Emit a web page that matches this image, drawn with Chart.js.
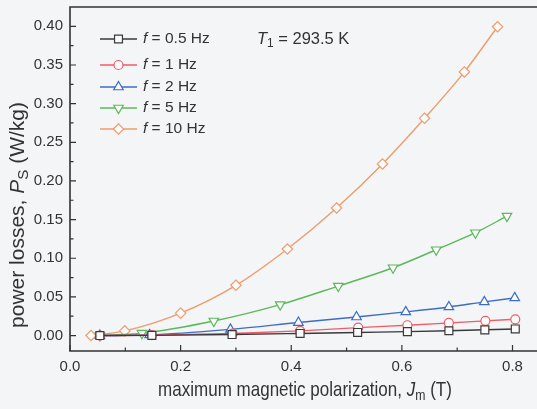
<!DOCTYPE html>
<html>
<head>
<meta charset="utf-8">
<script src="https://cdn.jsdelivr.net/npm/chart.js@4.4.0/dist/chart.umd.min.js"></script>
<style>
  html, body { margin: 0; padding: 0; background: #f4f5f6; }
  canvas { display: block; }
</style>
</head>
<body>
<canvas id="losses" width="537" height="409"></canvas>
<script>
// maximum polarization J_m (T) and specific losses P_S (W/kg) for each frequency
const jm05 = [0.054, 0.148, 0.293, 0.416, 0.520, 0.610, 0.685, 0.750, 0.805];
const ps05 = [0.0, 0.0002, 0.0013, 0.0027, 0.0040, 0.0050, 0.0062, 0.0074, 0.0085];

const jm1 = [0.054, 0.148, 0.294, 0.416, 0.521, 0.610, 0.685, 0.751, 0.805];
const ps1 = [0.0, 0.0005, 0.0026, 0.0060, 0.0103, 0.0133, 0.0163, 0.0190, 0.0210];

const jm2 = [0.054, 0.144, 0.290, 0.413, 0.518, 0.607, 0.685, 0.749, 0.804];
const ps2 = [0.0, 0.0008, 0.0080, 0.0168, 0.0240, 0.0306, 0.0370, 0.0435, 0.0487];

const jm5 = [0.054, 0.130, 0.260, 0.380, 0.485, 0.584, 0.662, 0.733, 0.790];
const ps5 = [0.0, 0.0030, 0.0188, 0.0400, 0.0640, 0.0877, 0.1110, 0.1330, 0.1545];

const jm10 = [0.038, 0.099, 0.200, 0.300, 0.393, 0.482, 0.565, 0.641, 0.713, 0.773];
const ps10 = [0.0, 0.0060, 0.0290, 0.0650, 0.1120, 0.1650, 0.2220, 0.2810, 0.3410, 0.3995];

const freqLabels = ['0.5 Hz', '1 Hz', '2 Hz', '5 Hz', '10 Hz'];
const xTicks = [0.0, 0.2, 0.4, 0.6, 0.8];
const xMinor = [0.1, 0.3, 0.5, 0.7];
const yTicks = [0.00, 0.05, 0.10, 0.15, 0.20, 0.25, 0.30, 0.35, 0.40];
const yMinor = [0.025, 0.075, 0.125, 0.175, 0.225, 0.275, 0.325, 0.375];

const INK = '#333333';
const FONT = '"Liberation Sans", Arial, sans-serif';

function pts(xs, ys) {
    return xs.map((x, i) => ({x: x, y: ys[i]}));
}

function series(label, xs, ys, color, style, radius, rotation) {
    return {
        label: label,
        data: pts(xs, ys),
        borderColor: color,
        borderWidth: 1.4,
        cubicInterpolationMode: 'monotone',
        pointStyle: style,
        pointRadius: radius,
        pointRotation: rotation || 0,
        pointBorderColor: color,
        pointBorderWidth: 1.2,
        pointBackgroundColor: '#fbfbfb',
        fill: false
    };
}

// draws a run of text pieces: [text, italic, subscript], squeezed horizontally by sx
function richText(ctx, parts, size, x, y, align, sx) {
    sx = sx || 1;
    const widths = parts.map(p => {
        ctx.font = (p[1] ? 'italic ' : '') + (p[2] ? size * 0.72 : size) + 'px ' + FONT;
        return ctx.measureText(p[0]).width;
    });
    const total = widths.reduce((a, b) => a + b, 0);
    ctx.save();
    ctx.translate(x, y);
    ctx.scale(sx, 1);
    let cx = align === 'center' ? -total / 2 : 0;
    parts.forEach((p, i) => {
        ctx.font = (p[1] ? 'italic ' : '') + (p[2] ? size * 0.72 : size) + 'px ' + FONT;
        ctx.fillText(p[0], cx, p[2] ? size * 0.28 : 0);
        cx += widths[i];
    });
    ctx.restore();
}

const framePlugin = {
    id: 'frame',
    afterDatasetsDraw(chart) {
        const ctx = chart.ctx;
        const a = chart.chartArea;
        const xs = chart.scales.x, ys = chart.scales.y;
        ctx.save();
        ctx.strokeStyle = INK;
        ctx.lineWidth = 1.6;
        ctx.beginPath();
        ctx.moveTo(chart.width, a.top);
        ctx.lineTo(a.left, a.top);
        ctx.lineTo(a.left, a.bottom);
        ctx.lineTo(chart.width, a.bottom);
        ctx.stroke();

        // inward tick marks
        ctx.lineWidth = 1.2;
        ctx.beginPath();
        xTicks.concat(xMinor).forEach((v, i) => {
            const px = xs.getPixelForValue(v);
            const len = i < xTicks.length ? 6 : 3.5;
            ctx.moveTo(px, a.bottom);
            ctx.lineTo(px, a.bottom - len);
        });
        yTicks.concat(yMinor).forEach((v, i) => {
            const py = ys.getPixelForValue(v);
            const len = i < yTicks.length ? 6 : 3.5;
            ctx.moveTo(a.left, py);
            ctx.lineTo(a.left + len, py);
        });
        ctx.stroke();
        ctx.restore();
    },
    afterDraw(chart) {
        const ctx = chart.ctx;
        ctx.save();
        ctx.fillStyle = INK;
        ctx.textBaseline = 'middle';

        // legend, line with marker then label
        const rowY = [39, 65, 87, 108, 129];
        chart.data.datasets.forEach((ds, i) => {
            const y = rowY[i];
            ctx.strokeStyle = ds.borderColor;
            ctx.lineWidth = 1.4;
            ctx.beginPath();
            ctx.moveTo(100, y);
            ctx.lineTo(137, y);
            ctx.stroke();
            ctx.fillStyle = '#fbfbfb';
            ctx.lineWidth = 1.2;
            Chart.helpers.drawPoint(ctx, {
                pointStyle: ds.pointStyle,
                radius: ds.pointRadius,
                rotation: ds.pointRotation,
                borderWidth: 1.2
            }, 118.5, y);
            ctx.fillStyle = INK;
            richText(ctx, [['f', true, false], [' = ' + ds.label, false, false]], 15.5, 143, y, 'left');
        });

        richText(ctx, [['T', true, false], ['1', false, true], [' = 293.5 K', false, false]], 16.5, 257, 39, 'left');

        // axis titles
        richText(ctx, [['maximum magnetic polarization, ', false, false], ['J', true, false],
            ['m', false, true], [' (T)', false, false]], 21, 305, 390, 'center', 0.81);

        ctx.translate(18, 215);
        ctx.rotate(-Math.PI / 2);
        richText(ctx, [['power losses, ', false, false], ['P', true, false],
            ['S', false, true], [' (W/kg)', false, false]], 21, 0, 0, 'center');
        ctx.restore();
    }
};

new Chart('losses', {
    type: 'line',
    data: {
        datasets: [
            series(freqLabels[0], jm05, ps05, '#3a3a3a', 'rect', 5.6),
            series(freqLabels[1], jm1, ps1, '#ee5d68', 'circle', 4.5),
            series(freqLabels[2], jm2, ps2, '#3e6cc6', 'triangle', 5.5),
            series(freqLabels[3], jm5, ps5, '#5cb85a', 'triangle', 5.5, 180),
            series(freqLabels[4], jm10, ps10, '#ee9c6c', 'rectRot', 5.2)
        ]
    },
    options: {
        responsive: false,
        animation: false,
        devicePixelRatio: 1,
        layout: {padding: {top: 7, right: 0, left: 0, bottom: 0}},
        plugins: {legend: {display: false}, tooltip: {enabled: false}},
        scales: {
            x: {
                type: 'linear',
                min: 0,
                max: 0.832,
                grid: {display: false, drawTicks: false},
                border: {display: false},
                afterFit(s) {
                    s.height = 58;
                    s.paddingLeft = 0;
                    s.paddingRight = 0;
                },
                afterBuildTicks(s) { s.ticks = xTicks.map(v => ({value: v})); },
                ticks: {
                    padding: 7,
                    color: INK,
                    font: {family: FONT, size: 15},
                    callback: v => v.toFixed(1)
                }
            },
            y: {
                type: 'linear',
                min: -0.02,
                max: 0.425,
                grid: {display: false, drawTicks: false},
                border: {display: false},
                afterFit(s) {
                    s.width = 70;
                    s.paddingTop = 0;
                    s.paddingBottom = 0;
                },
                afterBuildTicks(s) { s.ticks = yTicks.map(v => ({value: v})); },
                ticks: {
                    padding: 7,
                    color: INK,
                    font: {family: FONT, size: 15},
                    callback: v => v.toFixed(2)
                }
            }
        }
    },
    plugins: [framePlugin]
});
</script>
</body>
</html>
